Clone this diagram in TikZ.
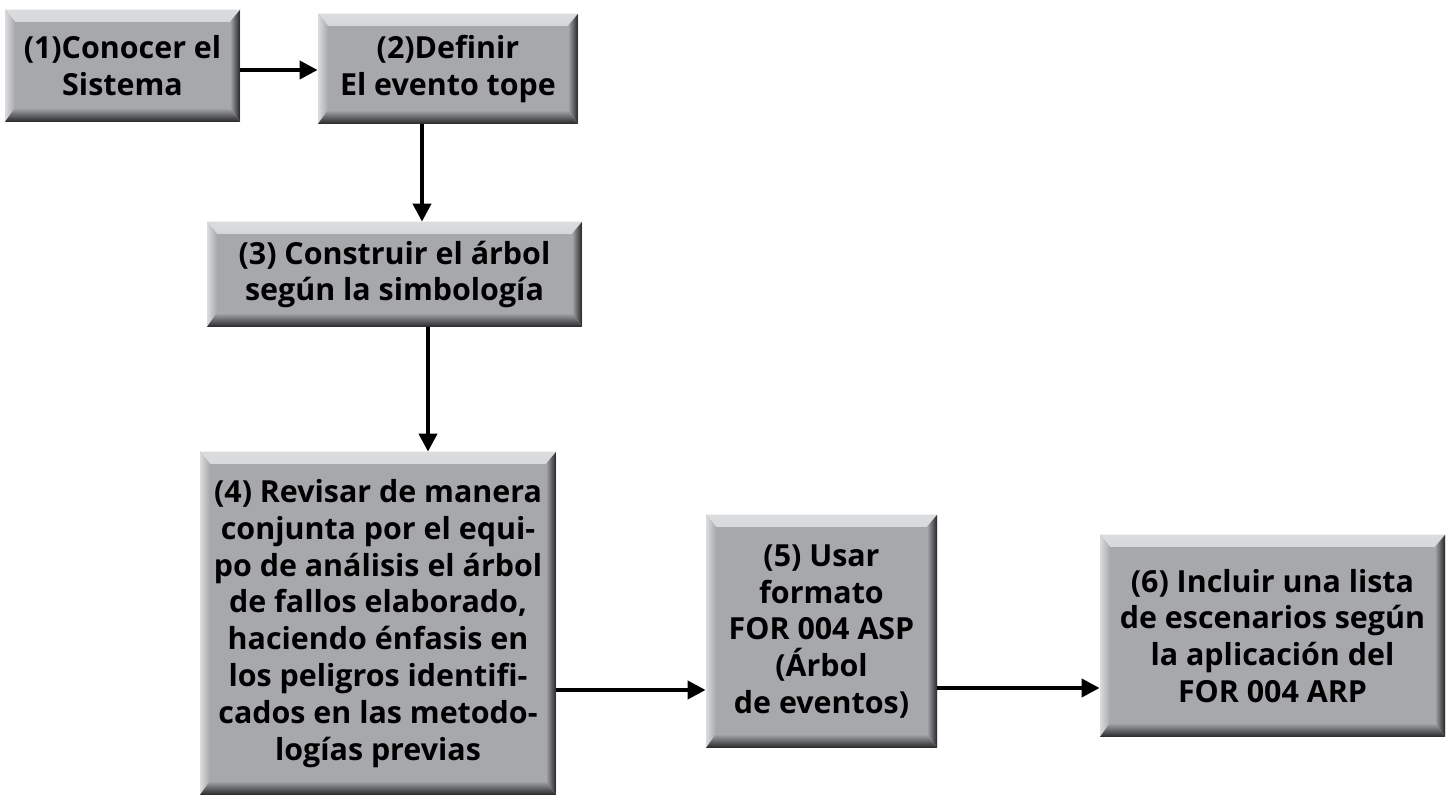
\documentclass[tikz,border=0pt]{standalone}
\usepackage{fontspec}
\setmainfont{Open Sans}
\usetikzlibrary{arrows.meta,calc}

\definecolor{boxgray}{RGB}{166,168,171}
\definecolor{bevlight}{RGB}{218,220,222}
\definecolor{bevdark}{RGB}{38,38,40}

\begin{document}
\begin{tikzpicture}[
    x=0.5pt, y=0.5pt,
    stepbox/.style={
        rectangle,
        fill=boxgray,
        inner sep=0pt,
        align=center,
        font=\bfseries\fontsize{15.2}{18.4}\selectfont,
        path picture={
            % top and left light bevel
            \fill[top color=bevlight, bottom color=boxgray]
                (path picture bounding box.north west) -- (path picture bounding box.north east)
                -- ([shift={(-5pt,-6pt)}]path picture bounding box.north east)
                -- ([shift={(5pt,-6pt)}]path picture bounding box.north west) -- cycle;
            \fill[left color=bevlight, right color=boxgray]
                (path picture bounding box.north west)
                -- ([shift={(5pt,-6pt)}]path picture bounding box.north west)
                -- ([shift={(5pt,7pt)}]path picture bounding box.south west)
                -- (path picture bounding box.south west) -- cycle;
            % right and bottom dark bevel
            \fill[left color=boxgray, right color=bevdark]
                (path picture bounding box.north east) -- (path picture bounding box.south east)
                -- ([shift={(-5pt,7pt)}]path picture bounding box.south east)
                -- ([shift={(-5pt,-6pt)}]path picture bounding box.north east) -- cycle;
            \fill[top color=boxgray, bottom color=bevdark]
                (path picture bounding box.south west)
                -- ([shift={(5pt,7pt)}]path picture bounding box.south west)
                -- ([shift={(-5pt,7pt)}]path picture bounding box.south east)
                -- (path picture bounding box.south east) -- cycle;
        }
    },
    line/.style={draw, line width=2pt, -{Triangle[length=9pt,width=9pt]}}
]

\useasboundingbox (0,0) rectangle (1448,-796);

% Steps
\node [stepbox, minimum width=117.5pt, minimum height=56pt] (know) at (122.5,-66)
    {(1)Conocer el\\Sistema};
\node [stepbox, minimum width=130pt, minimum height=55pt] (top) at (448,-69)
    {(2)Definir\\El evento tope};
\node [stepbox, minimum width=187.5pt, minimum height=52.5pt] (tree) at (394.5,-274.5)
    {(3) Construir el árbol\\según la simbología};
\node [stepbox, minimum width=178pt, minimum height=171.5pt] (review) at (378,-623.5)
    {(4) Revisar de manera\\conjunta por el equi-\\po de análisis el árbol\\de fallos elaborado,\\haciendo énfasis en\\los peligros identifi-\\cados en las metodo-\\logías previas};
\node [stepbox, minimum width=115.5pt, minimum height=116.5pt] (format) at (821.5,-631.5)
    {(5) Usar\\formato\\FOR 004 ASP\\(Árbol\\de eventos)};
\node [stepbox, minimum width=172.5pt, minimum height=101pt] (list) at (1272.5,-636)
    {(6) Incluir una lista\\de escenarios según\\la aplicación del\\FOR 004 ARP};

% Connectors
\draw [line] ([yshift=-2pt]know.east) -- ([yshift=-0.5pt]top.west);
\draw [line] ([xshift=-13pt]top.south) -- ([xshift=13.75pt]tree.north);
\draw [line] ([xshift=16.75pt]tree.south) -- ([xshift=25pt]review.north);
\draw [line] ([yshift=-33.25pt]review.east) -- ([yshift=-29.25pt]format.west);
\draw [line] ([yshift=-28.25pt]format.east) -- ([yshift=-26pt]list.west);

\end{tikzpicture}
\end{document}
